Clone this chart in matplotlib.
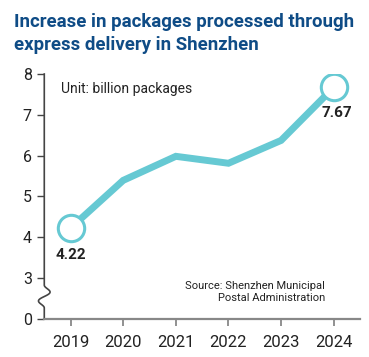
import numpy as np
import matplotlib.pyplot as plt
from matplotlib.lines import Line2D

# Data
years = [2019, 2020, 2021, 2022, 2023, 2024]
packages = [4.22, 5.39, 5.98, 5.81, 6.37, 7.67]
ytick_pos = [2, 3, 4, 5, 6, 7, 8]
ytick_labels = ['0', '3', '4', '5', '6', '7', '8']

line_color = '#66C9D3'
axis_color = '#444444'
text_color = '#222222'
title_color = '#0F4C86'

plt.rcParams['font.family'] = ['Roboto', 'DejaVu Sans']

fig = plt.figure(figsize=(3.69, 3.57), dpi=100)
ax = fig.add_axes([0.12, 0.1078, 0.8556, 0.6849])

# Line with end markers
ax.plot(years, packages, color=line_color, lw=5, solid_capstyle='round',
        solid_joinstyle='miter', zorder=3)
for i in [0, -1]:
    ax.plot(years[i], packages[i], 'o', ms=19, mfc='white', mec=line_color,
            mew=2.2, zorder=4)

ax.text(years[0], packages[0] - 0.66, f'{packages[0]:.2f}', ha='center', va='center',
        fontsize=11, fontweight='bold', color=text_color)
ax.text(years[-1] + 0.06, packages[-1] - 0.63, f'{packages[-1]:.2f}', ha='center',
        va='center', fontsize=11, fontweight='bold', color=text_color)

ax.set_xlim(2018.5, 2024.5)
ax.set_ylim(2, 8)
ax.set_xticks(years)
ax.set_xticklabels([str(y) for y in years])
ax.set_yticks(ytick_pos)
ax.set_yticklabels(ytick_labels)

for s in ['top', 'right', 'left']:
    ax.spines[s].set_visible(False)
ax.spines['bottom'].set_color('#888888')
ax.spines['bottom'].set_linewidth(1.6)
ax.tick_params(axis='both', colors=axis_color, labelcolor=text_color, labelsize=11.5)
ax.tick_params(axis='x', length=5, width=1.3, pad=7, color='#888888', labelsize=12)
ax.tick_params(axis='y', length=5, width=1.0, pad=4)

# y axis with break squiggle
t = np.linspace(0, 1, 60)
sq_y = 2.82 - 0.56 * t
sq_x = 2018.5 + 0.11 * np.sin(2 * np.pi * t) * np.sin(np.pi * t) * 1.3
yy = np.concatenate([[8.0], sq_y, [2.0]])
xx = np.concatenate([[2018.5], sq_x, [2018.5]])
ax.add_line(Line2D(xx, yy, color=axis_color, lw=1.2, clip_on=False))

ax.text(0.053, 0.94, 'Unit: billion packages', transform=ax.transAxes,
        fontsize=10, color=text_color, va='center', ha='left')
ax.text(0.889, 0.108, 'Source: Shenzhen Municipal\nPostal Administration',
        transform=ax.transAxes, fontsize=8, color=text_color, va='center',
        ha='right', linespacing=1.3)

fig.text(0.038, 0.938, 'Increase in packages processed through', fontsize=13.4,
         fontweight='bold', color=title_color, va='center', ha='left')
fig.text(0.038, 0.874, 'express delivery in Shenzhen', fontsize=13.4,
         fontweight='bold', color=title_color, va='center', ha='left')

fig.savefig('out.png', dpi=100)
